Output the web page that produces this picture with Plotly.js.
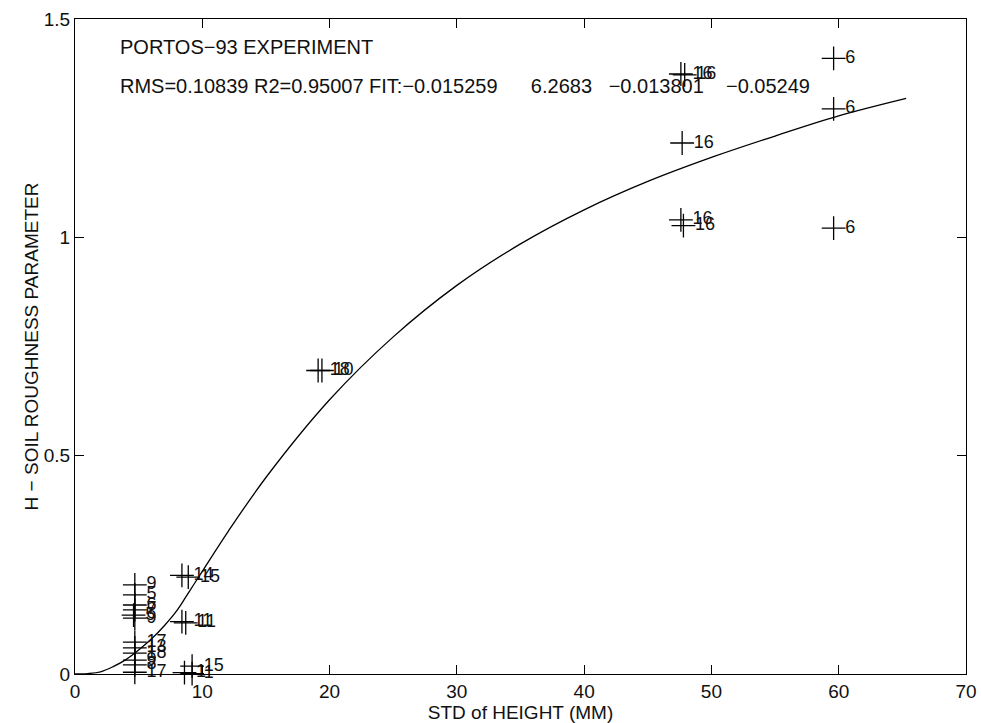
<!DOCTYPE html>
<html>
<head>
<meta charset="utf-8">
<script src="https://cdn.plot.ly/plotly-3.0.1.min.js"></script>
<style>html,body{margin:0;padding:0;background:#fff;}#chart{width:981px;height:723px;}</style>
</head>
<body>
<div id="chart"></div>
<script>
// Measured points (std of height in mm, roughness parameter H, field label)
const pointX = [4.7, 4.7, 4.7, 4.7, 4.6, 4.7,
                4.7, 4.7, 4.7, 4.7, 4.7, 4.7,
                8.4, 8.9, 8.4, 8.7, 9.2, 8.6, 9.2,
                19.1, 19.4,
                47.6, 47.9, 47.7, 47.6, 47.8,
                59.6, 59.6, 59.6];
const pointY = [0.204, 0.181, 0.158, 0.147, 0.135, 0.128,
                0.073, 0.060, 0.048, 0.032, 0.021, 0.004,
                0.226, 0.222, 0.120, 0.117, 0.018, 0.003, 0.001,
                0.695, 0.695,
                1.374, 1.372, 1.216, 1.040, 1.027,
                1.410, 1.294, 1.021];
const pointLabels = ["9", "5", "6", "7", "5", "9",
                     "17", "13", "18", "9", "8", "17",
                     "14", "15", "11", "11", "15", "1", "1",
                     "18", "10",
                     "16", "16", "16", "16", "16",
                     "6", "6", "6"];

// Fitted curve
const fitX = [0, 1, 2, 3, 4, 5, 6, 7, 8, 9, 10, 12, 15, 20, 25, 30, 35, 40, 45, 50, 55, 60, 65.3];
const fitY = [0, 0.001, 0.005, 0.017, 0.033, 0.055, 0.08, 0.11, 0.145, 0.19, 0.235, 0.325, 0.45, 0.628, 0.772, 0.89, 0.985, 1.063, 1.128, 1.183, 1.232, 1.278, 1.318];

const titleLine = "PORTOS\u221293 EXPERIMENT";
const statsLine = "RMS=0.10839 R2=0.95007 FIT:\u22120.015259      6.2683   \u22120.013801    \u22120.05249";

const xTicks = [0, 10, 20, 30, 40, 50, 60, 70];
const yTicks = [0, 0.5, 1, 1.5];

const font = "Liberation Sans, Arial, sans-serif";

const traces = [
  {
    x: fitX, y: fitY, mode: "lines", type: "scatter",
    line: {color: "#000", width: 1.3, shape: "spline", smoothing: 1},
    hoverinfo: "skip", showlegend: false
  },
  {
    x: pointX, y: pointY, mode: "markers+text", type: "scatter",
    text: pointLabels, textposition: "middle right",
    textfont: {family: font, size: 18, color: "#111"},
    marker: {symbol: "cross-thin", size: 17, line: {color: "#000", width: 1.3}, color: "#000"},
    cliponaxis: false, showlegend: false
  }
];

const layout = {
  width: 981, height: 723,
  margin: {l: 75, r: 15, t: 19, b: 49},
  paper_bgcolor: "#fff", plot_bgcolor: "#fff",
  font: {family: font, size: 19, color: "#111"},
  showlegend: false,
  xaxis: {
    range: [0, 70], tickvals: xTicks, ticktext: xTicks.map(String),
    ticks: "inside", ticklen: 9, tickcolor: "#000", tickwidth: 1,
    showline: true, linecolor: "#000", linewidth: 1, mirror: "ticks",
    showgrid: false, zeroline: false,
    tickfont: {family: font, size: 19},
    automargin: false,
    title: {text: "STD of HEIGHT (MM)", font: {family: font, size: 19}, standoff: 0}
  },
  yaxis: {
    range: [0, 1.5], tickvals: yTicks, ticktext: ["0", "0.5", "1", "1.5"],
    ticks: "inside", ticklen: 9, tickcolor: "#000", tickwidth: 1,
    showline: true, linecolor: "#000", linewidth: 1, mirror: "ticks",
    showgrid: false, zeroline: false,
    tickfont: {family: font, size: 19},
    automargin: false,
    title: {text: "H \u2212 SOIL ROUGHNESS PARAMETER", font: {family: font, size: 19}, standoff: 0}
  },
  annotations: [
    {x: 3.4, y: 1.436, xref: "x", yref: "y", text: titleLine, showarrow: false,
     xanchor: "left", yanchor: "middle", font: {family: font, size: 20}},
    {x: 3.4, y: 1.346, xref: "x", yref: "y", text: statsLine, showarrow: false,
     xanchor: "left", yanchor: "middle", font: {family: font, size: 20}}
  ]
};

Plotly.newPlot("chart", traces, layout, {displayModeBar: false, staticPlot: true});
</script>
</body>
</html>
